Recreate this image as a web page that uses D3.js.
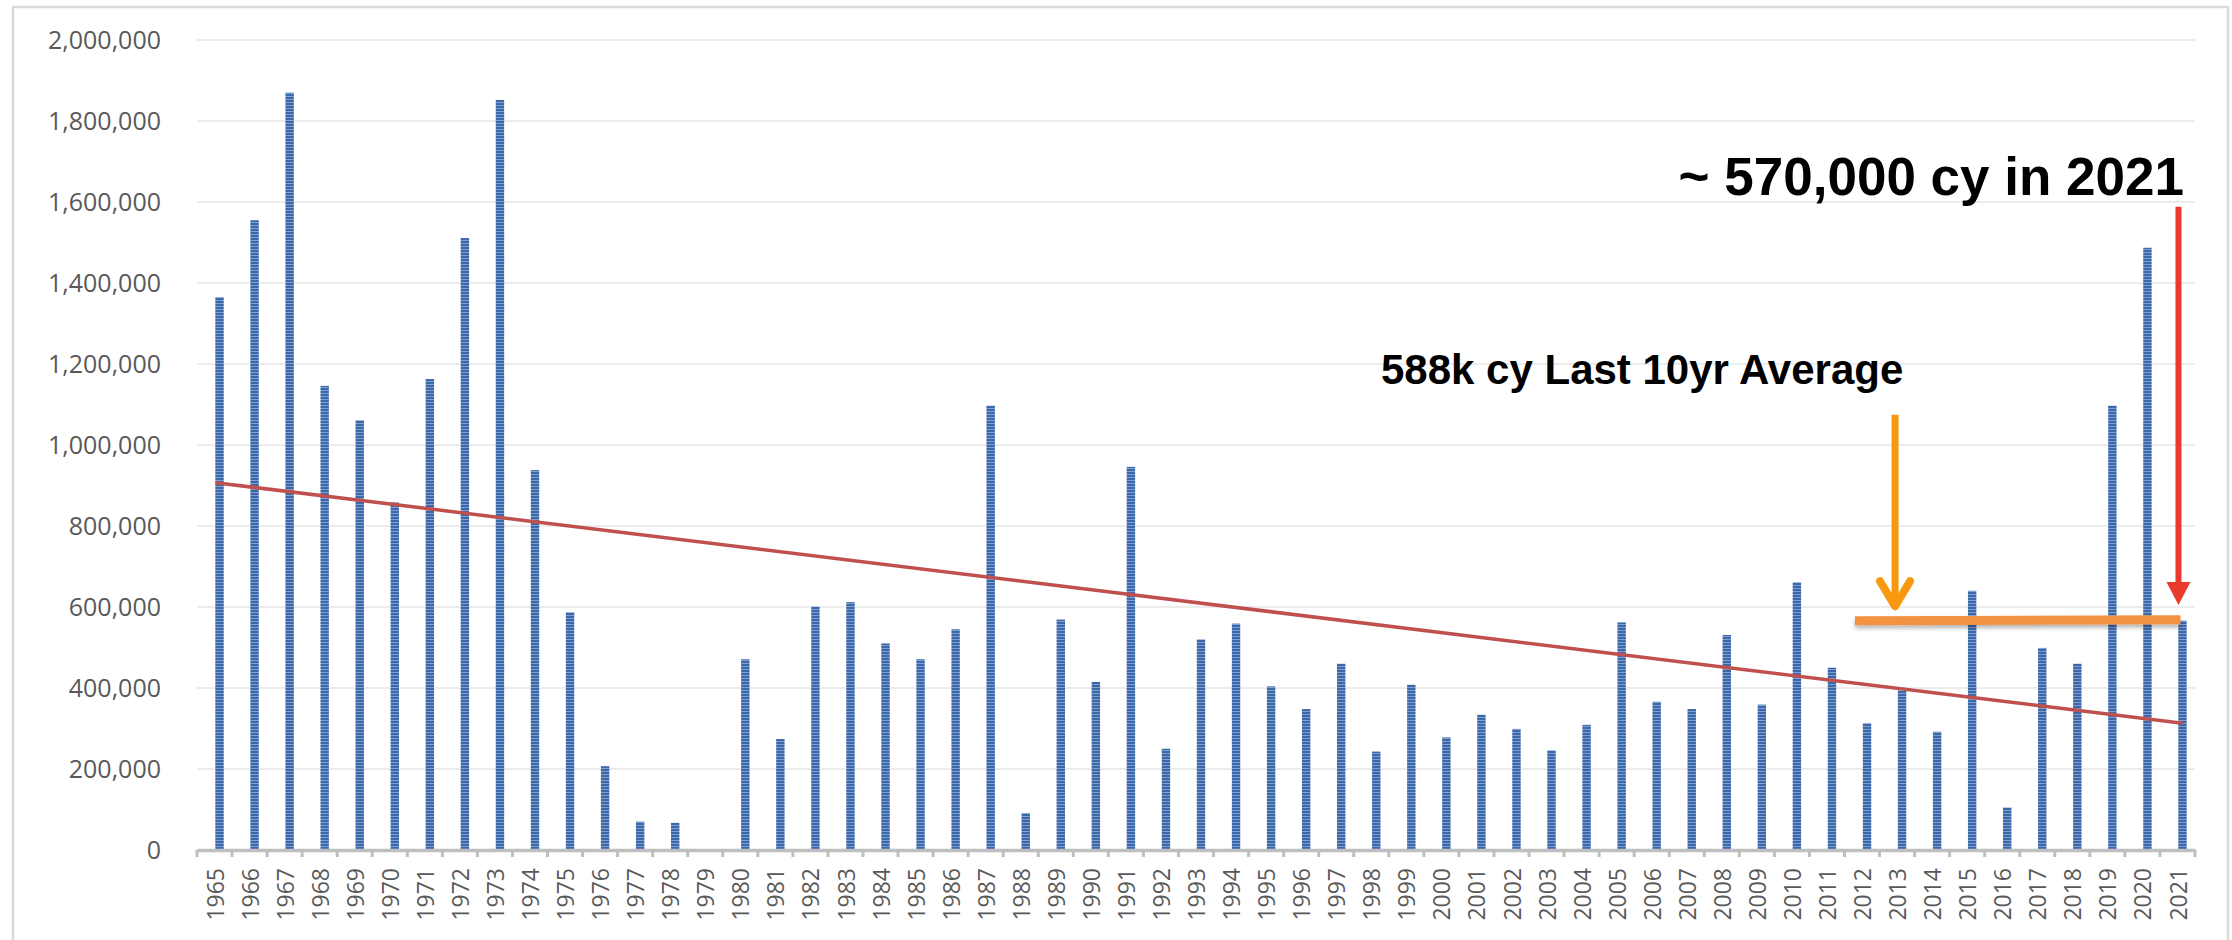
<!DOCTYPE html>
<html>
<head>
<meta charset="utf-8">
<script src="https://cdnjs.cloudflare.com/ajax/libs/d3/7.8.5/d3.min.js"></script>
<style>
    body { margin: 0; background: #ffffff; }
    #chart-area { width: 2232px; height: 940px; }
    .axis text { font-family: "Open Sans", sans-serif; fill: #595959; }
    .note { font-family: "Liberation Sans", Arial, sans-serif; font-weight: bold; fill: #000; }
</style>
</head>
<body>
<div id="chart-area"></div>
<script>
/* * * * * * * * * * * * * *
*        Yardage Vis       *
* * * * * * * * * * * * * */

// years on the x axis
const years = d3.range(1965, 2022).map(String);

// cubic yards per year
const yardage = [
    1365000, 1555000, 1870000, 1146000, 1061000, 858000, 1163000, 1511000, 1852000, 938000,
    587000, 207000, 70000, 67000, 0, 471000, 274000, 601000, 612000, 510000,
    471000, 545000, 1097000, 91000, 569000, 415000, 946000, 250000, 520000, 559000,
    404000, 348000, 460000, 243000, 408000, 278000, 334000, 299000, 246000, 309000,
    562000, 366000, 348000, 531000, 359000, 661000, 450000, 313000, 394000, 292000,
    640000, 105000, 499000, 460000, 1097000, 1487000, 566000
];

// y axis ticks
const yTicks = [0, 200000, 400000, 600000, 800000, 1000000, 1200000, 1400000, 1600000, 1800000, 2000000];

// linear trend end points
const trendYears = ["1965", "2021"];
const trendValues = [907000, 313000];

// last 10yr average annotation
const avgYears = ["2012", "2021"];
const avgValue = 566000;
const avgLabel = "588k cy Last 10yr Average";

// arrows [year, from value, to value]
const avgArrow = ["2013", 1075000, 592000];
const lastArrow = ["2021", 1588000, 605000];
const lastLabel = "~ 570,000 cy in 2021";


class BarVis {

    constructor(parentElement) {
        this.parentElement = parentElement;
        this.initVis();
    }

    initVis() {
        let vis = this;

        vis.margin = {top: 40, right: 37, bottom: 90, left: 197};
        vis.totalWidth = 2232;
        vis.totalHeight = 940;
        vis.width = vis.totalWidth - vis.margin.left - vis.margin.right;
        vis.height = vis.totalHeight - vis.margin.top - vis.margin.bottom;

        vis.svg = d3.select("#" + vis.parentElement).append("svg")
            .attr("width", vis.totalWidth)
            .attr("height", vis.totalHeight);

        // striped fill for the bars
        let defs = vis.svg.append("defs");
        let pat = defs.append("pattern")
            .attr("id", "stripes")
            .attr("patternUnits", "userSpaceOnUse")
            .attr("width", 12)
            .attr("height", 3);
        pat.append("rect").attr("width", 12).attr("height", 3).attr("fill", "#3d68a8");
        pat.append("rect").attr("y", 2).attr("width", 12).attr("height", 1).attr("fill", "#7f9fd3");

        defs.append("filter")
            .attr("id", "shadow")
            .attr("filterUnits", "userSpaceOnUse")
            .attr("x", 0).attr("y", 0).attr("width", vis.totalWidth).attr("height", vis.totalHeight)
            .append("feDropShadow")
            .attr("dx", 0).attr("dy", 3).attr("stdDeviation", 2)
            .attr("flood-color", "#000").attr("flood-opacity", 0.3);

        // frame round the chart
        vis.svg.append("rect")
            .attr("x", 13).attr("y", 7)
            .attr("width", 2215).attr("height", 940)
            .attr("fill", "#fff")
            .attr("stroke", "#d9d9d9")
            .attr("stroke-width", 2.5);

        vis.g = vis.svg.append("g")
            .attr("transform", `translate(${vis.margin.left}, ${vis.margin.top})`);

        // scales
        vis.x = d3.scaleBand()
            .domain(years)
            .range([0, vis.width])
            .padding(0);

        vis.y = d3.scaleLinear()
            .domain([0, 2000000])
            .range([vis.height, 0]);

        // gridlines
        vis.g.append("g")
            .attr("class", "grid")
            .selectAll("line")
            .data(yTicks.filter(d => d > 0))
            .enter().append("line")
            .attr("x1", 0)
            .attr("x2", vis.width)
            .attr("y1", d => vis.y(d))
            .attr("y2", d => vis.y(d))
            .attr("stroke", "#ececec")
            .attr("stroke-width", 2);

        // y axis (labels only)
        vis.yAxis = d3.axisLeft(vis.y)
            .tickValues(yTicks)
            .tickSize(0)
            .tickPadding(36)
            .tickFormat(d3.format(","));

        vis.g.append("g")
            .attr("class", "axis y-axis")
            .call(vis.yAxis)
            .call(g => g.select(".domain").remove())
            .selectAll("text")
            .attr("font-size", 25);

        vis.updateVis();
    }

    updateVis() {
        let vis = this;
        let bw = vis.x.bandwidth();
        let barW = bw * 0.24;
        let cx = yr => vis.x(yr) + bw / 2;
        // bars sit a little right of the category centre
        let bx = yr => cx(yr) + 5;

        // bars
        vis.g.append("g")
            .selectAll("rect")
            .data(years.map((yr, i) => ({year: yr, value: yardage[i]})))
            .enter().append("rect")
            .attr("x", d => bx(d.year) - barW / 2)
            .attr("y", d => vis.y(d.value))
            .attr("width", barW)
            .attr("height", d => vis.height - vis.y(d.value))
            .attr("fill", "url(#stripes)");

        // x axis
        vis.xAxis = d3.axisBottom(vis.x)
            .tickSize(0)
            .tickPadding(0);

        let xg = vis.g.append("g")
            .attr("class", "axis x-axis")
            .attr("transform", `translate(0, ${vis.height})`)
            .call(vis.xAxis);

        xg.select(".domain")
            .attr("stroke", "#bfbfbf")
            .attr("stroke-width", 3.5);

        xg.selectAll("text")
            .attr("font-size", 23)
            .attr("text-anchor", "end")
            .attr("dy", "0.35em")
            .attr("transform", "translate(1, 18) rotate(-90)");

        // little ticks between the categories
        xg.append("g")
            .selectAll("line")
            .data(years.concat(["end"]))
            .enter().append("line")
            .attr("x1", (d, i) => i * bw)
            .attr("x2", (d, i) => i * bw)
            .attr("y1", 0)
            .attr("y2", 7)
            .attr("stroke", "#bfbfbf")
            .attr("stroke-width", 3);

        // trend line
        vis.g.append("line")
            .attr("x1", bx(trendYears[0]) - 4)
            .attr("x2", bx(trendYears[1]))
            .attr("y1", vis.y(trendValues[0]))
            .attr("y2", vis.y(trendValues[1]))
            .attr("stroke", "#c0504d")
            .attr("stroke-width", 3.5);

        // last 10yr average line
        vis.g.append("line")
            .attr("x1", vis.x(avgYears[0]) + bw * 0.3)
            .attr("x2", cx(avgYears[1]) + 3)
            .attr("y1", vis.y(avgValue))
            .attr("y2", vis.y(avgValue) - 1)
            .attr("stroke", "#f39240")
            .attr("stroke-width", 9)
            .attr("filter", "url(#shadow)");

        // orange arrow pointing at the average
        let ax = cx(avgArrow[0]) - 2;
        let aTip = vis.y(avgArrow[2]);
        vis.g.append("line")
            .attr("x1", ax).attr("x2", ax)
            .attr("y1", vis.y(avgArrow[1]))
            .attr("y2", aTip - 3)
            .attr("stroke", "#f7980e")
            .attr("stroke-width", 7);
        vis.g.append("path")
            .attr("d", `M${ax - 15},${aTip - 29} L${ax},${aTip - 4} L${ax + 15},${aTip - 29}`)
            .attr("fill", "none")
            .attr("stroke", "#f7980e")
            .attr("stroke-width", 8)
            .attr("stroke-linecap", "round")
            .attr("stroke-linejoin", "round");

        // red arrow pointing at 2021
        let rx = cx(lastArrow[0]) + 1;
        let rTip = vis.y(lastArrow[2]);
        vis.g.append("line")
            .attr("x1", rx).attr("x2", rx)
            .attr("y1", vis.y(lastArrow[1]))
            .attr("y2", rTip - 20)
            .attr("stroke", "#e93a2d")
            .attr("stroke-width", 6);
        vis.g.append("path")
            .attr("d", `M${rx - 12},${rTip - 23} L${rx + 12},${rTip - 23} L${rx},${rTip} Z`)
            .attr("fill", "#e93a2d");

        // annotation texts
        vis.svg.append("text")
            .attr("class", "note")
            .attr("x", 2184)
            .attr("y", 195)
            .attr("text-anchor", "end")
            .attr("font-size", 53)
            .text(lastLabel);

        vis.svg.append("text")
            .attr("class", "note")
            .attr("x", 1381)
            .attr("y", 384)
            .attr("font-size", 42)
            .text(avgLabel);
    }
}

new BarVis("chart-area");
</script>
</body>
</html>
